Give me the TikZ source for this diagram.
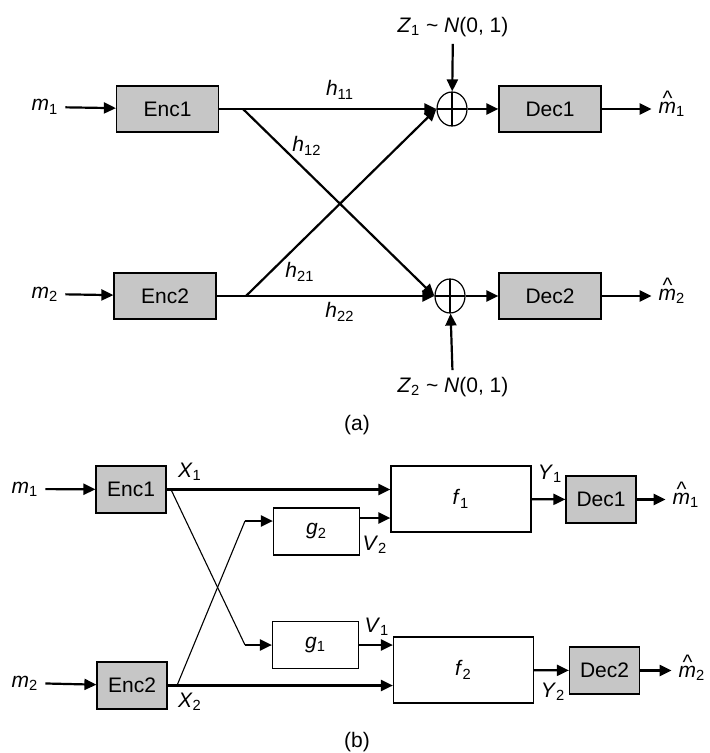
\documentclass[tikz,border=0pt]{standalone}
\usepackage{fontspec}
\setmainfont{Liberation Sans}
\usetikzlibrary{arrows.meta,positioning,shapes.geometric,calc}
\newcommand{\icv}[2]{\textit{#1}\textsubscript{#2}}
\newcommand{\ichat}[1]{\textit{\makebox[0pt][l]{\makebox[0.83em]{\raisebox{0.36em}{\textasciicircum}}}m}\textsubscript{#1}}
\tikzset{
icbox/.style={rectangle,draw,line width=0.6pt,fill=gray!45,inner sep=0pt,minimum width=51pt,minimum height=23pt},
icsmall/.style={icbox,minimum width=35pt,minimum height=23.5pt},
icfun/.style={rectangle,draw,line width=0.6pt,fill=white,inner sep=0pt,minimum width=43pt,minimum height=23.5pt},
icmap/.style={icfun,minimum width=70pt,minimum height=33pt},
icsum/.style={ellipse,draw,line width=0.6pt,inner sep=0pt,minimum width=15pt,minimum height=17pt,
  path picture={\draw[line width=0.6pt] (path picture bounding box.north)--(path picture bounding box.south)
  (path picture bounding box.west)--(path picture bounding box.east);}},
icarr/.style={-{Triangle[length=6pt,width=5.5pt]},line width=1.1pt},
icthin/.style={line width=0.55pt}
}

\begin{document}
\begin{tikzpicture}[
x=0.5pt,
y=-0.5pt,
every node/.style={font=\fontsize{10.5}{12}\selectfont}
]
\useasboundingbox (0,0) rectangle (710,753);
% (a)
\node (m1a) at (45,107) {\icv{m}{1}};
\node[icbox] (enc1a) at (167.5,109) {Enc1};
\node[icsum] (sum1) at (452,109) {};
\node[icbox] (dec1a) at (550,109) {Dec1};
\node (mh1a) at (672,104) {\ichat{1}};
\node (z1) at (453,27) {\icv{Z}{1} \textasciitilde{} \textit{N}(0, 1)};
\node (m2a) at (45,294) {\icv{m}{2}};
\node[icbox] (enc2a) at (165,296) {Enc2};
\node[icsum] (sum2) at (450,296) {};
\node[icbox] (dec2a) at (550,296) {Dec2};
\node (mh2a) at (672,291) {\ichat{2}};
\node (z2) at (453,387) {\icv{Z}{2} \textasciitilde{} \textit{N}(0, 1)};
\node (capa) at (357,425) {(a)};
\node (h11) at (340,90) {\icv{h}{11}};
\node (h12) at (307,146) {\icv{h}{12}};
\node (h21) at (300,272) {\icv{h}{21}};
\node (h22) at (340,312) {\icv{h}{22}};
\coordinate (sp1a) at (243,109);
\coordinate (sp2a) at (246,296);
\draw[icarr] (m1a) -- (enc1a);
\draw[icarr] (enc1a) -- (sum1);
\draw[icarr] (sp1a) -- (sum2.west);
\draw[icarr] (m2a) -- (enc2a);
\draw[icarr] (enc2a) -- (sum2);
\draw[icarr] (sp2a) -- (sum1.west);
\draw[icarr] (z1) -- (sum1);
\draw[icarr] (z2) -- (sum2);
\draw[icarr] (sum1) -- (dec1a);
\draw[icarr] (sum2) -- (dec2a);
\draw[icarr] (dec1a.east) -- (dec1a.east -| mh1a.west);
\draw[icarr] (dec2a.east) -- (dec2a.east -| mh2a.west);
% (b)
\node (m1b) at (25,489) {\icv{m}{1}};
\node[icsmall] (enc1b) at (131,489.5) {Enc1};
\node (x1) at (190,472) {\icv{X}{1}};
\node[icfun] (g2) at (316.5,531.5) {\icv{g}{2}};
\node[icmap] (f1) at (461,499) {\icv{f}{1}};
\node (v2) at (375,545) {\icv{V}{2}};
\node (y1) at (550,474) {\icv{Y}{1}};
\node[icsmall] (dec1b) at (601,499.5) {Dec1};
\node (mh1b) at (686,495) {\ichat{1}};
\node[icfun] (g1) at (315.5,645) {\icv{g}{1}};
\node (v1) at (377,627) {\icv{V}{1}};
\node[icmap] (f2) at (463.5,670) {\icv{f}{2}};
\node (y2) at (553,692) {\icv{Y}{2}};
\node[icsmall] (dec2b) at (604.5,670.5) {Dec2};
\node (mh2b) at (692,668) {\ichat{2}};
\node (m2b) at (25,683) {\icv{m}{2}};
\node[icsmall] (enc2b) at (132,685.5) {Enc2};
\node (x2) at (190,702) {\icv{X}{2}};
\node (capb) at (357,742) {(b)};
\coordinate (sp1b) at (171,489.5);
\coordinate (sp2b) at (177,685.5);
\coordinate (c1) at (245,645);
\coordinate (c2) at (245,521);
\draw[icarr] (m1b) -- (enc1b);
\draw[icarr] (enc1b) -- (enc1b -| f1.west);
\draw[icthin] (sp1b) -- (c1);
\draw[icarr] (c1) -- (g1.west);
\draw[icthin] (sp2b) -- (c2);
\draw[icarr] (c2) -- (c2 -| g2.west);
\draw[icarr] ([yshift=6.75pt]g2.east) -- ([yshift=6.75pt]g2.east -| f1.west);
\draw[icarr] (g1) -- (g1 -| f2.west);
\draw[icarr] (m2b) -- (enc2b);
\draw[icarr] (enc2b) -- (enc2b -| f2.west);
\draw[icarr] (f1) -- (dec1b);
\draw[icarr] (f2) -- (dec2b);
\draw[icarr] (dec1b.east) -- (dec1b.east -| mh1b.west);
\draw[icarr] (dec2b.east) -- (dec2b.east -| mh2b.west);
\end{tikzpicture}
\end{document}
